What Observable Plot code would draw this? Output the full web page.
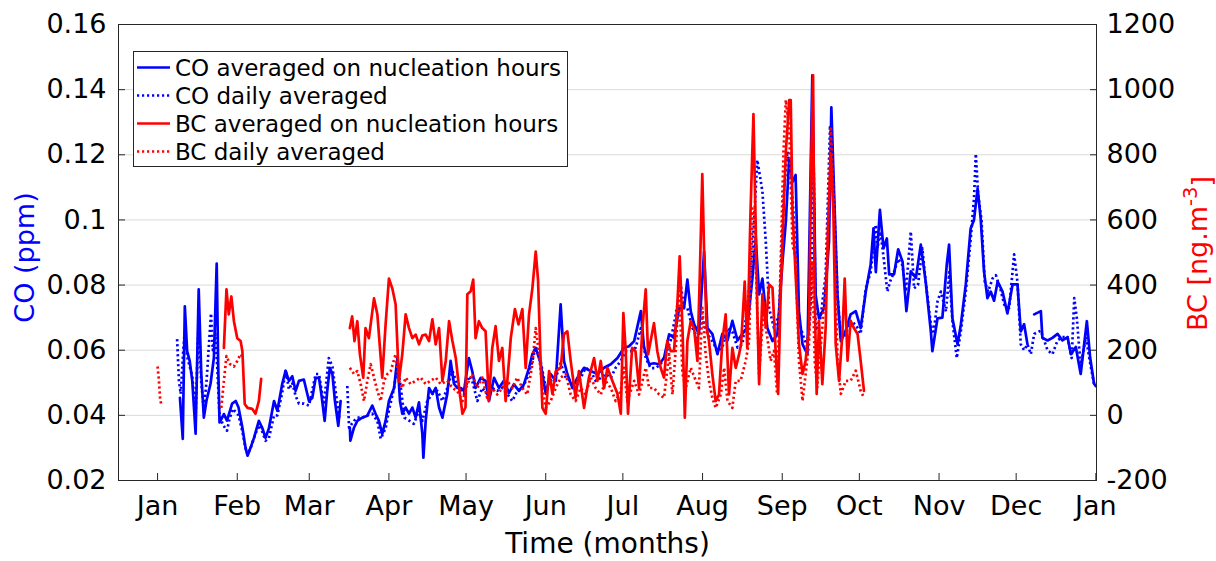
<!DOCTYPE html>
<html>
<head>
<meta charset="utf-8">
<script src="https://cdn.jsdelivr.net/npm/d3@7"></script>
<script src="https://cdn.jsdelivr.net/npm/@observablehq/plot@0.6"></script>
<style>
  html, body { margin: 0; padding: 0; background: #fff; }
  #wrap { position: relative; width: 1216px; height: 561px; font-family: "DejaVu Sans", sans-serif; }
  #legend { position: absolute; left: 0; top: 0; }
</style>
</head>
<body>
<div id="wrap"></div>
<script>
// ---- Data (day of year, value) ----
// CO averaged on nucleation hours (ppm)
const coNucleation = [
[8.7,0.0454],[9.8,0.0328],[10.6,0.0735],[11.5,0.0597],[12.5,0.0567],[13.5,0.0506],[14.8,0.0344],[16.0,0.0787],
[17.0,0.0527],[18.0,0.0393],[19.0,0.0444],[20.6,0.0497],[21.9,0.0576],[23.0,0.0866],[23.6,0.0546],[24.1,0.0378],
[25.8,0.0404],[27.0,0.0384],[29.0,0.0436],[30.4,0.0444],[31.5,0.0424],[33.0,0.0362],[34.2,0.0301],[35.0,0.0276],
[36.2,0.0301],[37.5,0.0331],[39.4,0.0383],[40.7,0.0362],[42.0,0.0331],[43.3,0.0360],[45.3,0.0444],[46.6,0.0414],
[48.5,0.0497],[49.8,0.0537],[51.1,0.0506],[52.4,0.0520],[53.7,0.0475],[55.0,0.0506],[56.9,0.0510],[58.9,0.0444],
[60.2,0.0454],[61.5,0.0515],[62.8,0.0515],[63.7,0.0466],[65.0,0.0383],[66.0,0.0475],[67.0,0.0546],[68.0,0.0527],
[69.0,0.0444],[70.3,0.0368],[71.2,0.0444],[73.0,null],
[74.8,0.0362],[75.0,0.0322],[76.4,0.0362],[77.7,0.0383],[79.6,0.0393],[81.6,0.0399],[83.5,0.0430],[84.8,0.0405],
[86.1,0.0383],[87.4,0.0343],[88.7,0.0383],[90.0,0.0444],[92.0,0.0484],[93.3,0.0576],[94.3,0.0444],[95.2,0.0405],
[96.5,0.0424],[97.8,0.0405],[99.1,0.0424],[100.4,0.0393],[101.7,0.0440],[103.0,0.0343],[103.4,0.0270],[104.3,0.0383],
[105.6,0.0484],[106.9,0.0466],[108.2,0.0484],[109.5,0.0424],[110.8,0.0393],[112.7,0.0466],[114.0,0.0567],[115.3,0.0497],
[116.6,0.0484],[118.0,0.0484],[119.2,0.0475],[121.1,0.0576],[122.4,0.0536],[123.7,0.0484],[125.7,0.0515],[127.6,0.0506],
[128.9,0.0444],[130.9,0.0515],[132.8,0.0484],[134.7,0.0506],[136.7,0.0469],[138.6,0.0495],[140.6,0.0475],[142.5,0.0495],
[144.5,0.0546],[145.8,0.0588],[147.1,0.0607],[149.0,0.0560],[151.0,0.0466],[152.9,0.0527],[154.9,0.0506],[156.8,0.0741],
[158.1,0.0567],[159.4,0.0527],[161.4,0.0484],[163.3,0.0515],[165.9,0.0546],[168.5,0.0536],[171.1,0.0527],[173.7,0.0546],
[176.3,0.0557],[178.9,0.0576],[181.4,0.0607],[183.4,0.0612],[185.4,0.0628],[188.0,0.0720],[189.2,0.0610],[191.2,0.0557],
[193.1,0.0560],[195.1,0.0557],[197.0,0.0576],[199.0,0.0649],[200.9,0.0638],[202.9,0.0729],[204.8,0.0729],[206.1,0.0817],
[207.4,0.0720],[208.7,0.0680],[210.6,0.0650],[212.6,0.0903],[213.9,0.0668],[215.8,0.0650],[217.8,0.0588],[219.7,0.0650],
[221.7,0.0630],[223.6,0.0690],[225.6,0.0630],[227.5,0.0650],[229.4,0.0670],[231.4,0.0821],[232.7,0.0943],[234.0,0.0771],
[235.3,0.0820],[237.2,0.0668],[239.2,0.0628],[241.1,0.0649],[243.1,0.0872],[244.4,0.0995],[245.7,0.1188],[247.0,0.1117],
[248.2,0.1138],[249.5,0.0720],[250.9,0.0618],[252.8,0.0588],[254.7,0.1444],[256.0,0.0770],[257.3,0.0698],[259.3,0.0730],
[261.2,0.0934],[262.1,0.1346],[263.2,0.1077],[264.5,0.0770],[265.8,0.0628],[267.7,0.0660],[269.6,0.0710],[271.6,0.0720],
[273.5,0.0668],[275.5,0.0780],[277.4,0.0863],[278.5,0.0974],[279.4,0.0840],[281.0,0.1031],[282.4,0.0913],[283.7,0.0943],
[284.6,0.0833],[286.5,0.0833],[288.1,0.0910],[289.8,0.0872],[291.3,0.0720],[293.0,0.0842],[295.0,0.0822],[296.9,0.0924],
[298.8,0.0811],[300.8,0.0658],[301.4,0.0597],[303.4,0.0698],[305.3,0.0700],[307.0,0.0863],[307.9,0.0924],[309.2,0.0698],
[311.2,0.0618],[312.5,0.0680],[314.4,0.0802],[316.3,0.0974],[317.6,0.1000],[319.0,0.1096],[320.2,0.1004],[321.5,0.0842],
[322.8,0.0760],[324.1,0.0780],[325.4,0.0752],[326.8,0.0811],[328.7,0.0780],[330.6,0.0713],[332.6,0.0802],[334.5,0.0802],
[335.8,0.0658],[337.1,0.0680],[338.4,0.0618],[339.6,null],
[341.0,0.0710],[343.6,0.0720],[344.2,0.0638],[346.2,0.0630],[348.1,0.0638],[350.1,0.0650],[352.0,0.0630],[354.0,0.0640],
[355.3,0.0588],[357.2,0.0610],[359.1,0.0527],[361.5,0.0689],[362.8,0.0576],[364.3,0.0497],[365.0,0.0490]
];
// CO daily averaged (ppm)
const coDaily = [
[7.6,0.0634],[8.3,0.0506],[9.0,0.0466],[10.0,0.0600],[10.6,0.0660],[11.5,0.0580],[12.5,0.0550],[13.5,0.0520],
[14.8,0.0400],[16.0,0.0700],[17.0,0.0500],[18.0,0.0420],[19.0,0.0500],[20.8,0.0713],[21.5,0.0600],[22.5,0.0650],
[23.2,0.0550],[24.1,0.0400],[25.5,0.0370],[27.0,0.0353],[28.0,0.0390],[29.3,0.0420],[30.4,0.0410],[31.5,0.0400],
[33.0,0.0350],[34.2,0.0300],[35.0,0.0280],[36.2,0.0300],[37.5,0.0330],[39.4,0.0370],[40.7,0.0350],[42.0,0.0322],
[43.3,0.0330],[45.3,0.0400],[46.6,0.0400],[48.5,0.0470],[49.8,0.0540],[51.1,0.0480],[52.4,0.0500],[53.7,0.0460],
[55.0,0.0436],[56.9,0.0436],[58.9,0.0430],[61.5,0.0527],[62.8,0.0527],[64.7,0.0433],[66.6,0.0576],[68.0,0.0550],
[69.4,0.0466],[70.7,0.0393],[72.0,null],
[73.8,0.0490],[74.5,0.0362],[76.4,0.0383],[77.7,0.0393],[79.6,0.0393],[81.6,0.0400],[83.5,0.0405],[85.5,0.0383],
[86.8,0.0328],[88.7,0.0360],[90.0,0.0415],[92.0,0.0484],[93.3,0.0560],[94.7,0.0480],[96.0,0.0393],[98.0,0.0383],
[99.7,0.0374],[101.7,0.0415],[103.0,0.0383],[104.9,0.0444],[106.9,0.0466],[108.9,0.0475],[110.8,0.0444],[112.7,0.0484],
[114.7,0.0536],[116.6,0.0495],[119.2,0.0466],[121.1,0.0520],[122.4,0.0506],[124.4,0.0444],[126.3,0.0484],[128.2,0.0466],
[130.2,0.0484],[132.1,0.0475],[134.1,0.0484],[136.0,0.0466],[138.0,0.0444],[139.9,0.0475],[141.9,0.0484],[143.8,0.0515],
[145.8,0.0567],[147.1,0.0612],[149.0,0.0567],[151.0,0.0484],[152.9,0.0506],[154.9,0.0515],[156.8,0.0560],[158.8,0.0515],
[160.7,0.0506],[162.6,0.0484],[164.6,0.0515],[166.5,0.0546],[168.5,0.0536],[170.4,0.0506],[172.4,0.0515],[174.3,0.0527],
[176.3,0.0515],[178.2,0.0546],[180.2,0.0567],[182.1,0.0597],[184.1,0.0597],[186.0,0.0608],[188.0,0.0668],[189.9,0.0576],
[191.8,0.0545],[193.8,0.0545],[195.7,0.0557],[197.7,0.0588],[199.6,0.0630],[201.6,0.0710],[203.5,0.0802],[204.8,0.0730],
[206.1,0.0729],[208.1,0.0668],[210.0,0.0638],[211.9,0.0698],[213.9,0.0650],[215.8,0.0628],[217.8,0.0597],[219.7,0.0608],
[221.7,0.0668],[223.6,0.0657],[225.6,0.0608],[227.5,0.0618],[229.4,0.0729],[231.4,0.0903],[233.3,0.1184],[235.3,0.1087],
[236.6,0.0933],[237.9,0.0729],[239.8,0.0668],[241.8,0.0710],[243.7,0.1087],[245.0,0.1210],[245.7,0.1178],[247.0,0.1066],
[248.2,0.0924],[249.5,0.0690],[250.9,0.0650],[252.8,0.0610],[254.3,0.0770],[255.1,0.1250],[256.0,0.0660],[257.9,0.0700],
[259.9,0.0833],[261.6,0.1290],[262.9,0.1100],[264.5,0.0770],[265.8,0.0630],[267.7,0.0650],[269.6,0.0690],[271.6,0.0678],
[273.5,0.0650],[275.5,0.0790],[277.4,0.0840],[279.4,0.0985],[280.0,0.0913],[281.2,0.0964],[282.5,0.0880],[283.9,0.0780],
[284.9,0.0810],[286.5,0.0840],[288.1,0.0880],[289.8,0.0860],[291.1,0.0780],[293.0,0.0964],[294.3,0.0790],[295.8,0.0800],
[297.5,0.0913],[298.8,0.0810],[300.8,0.0680],[301.8,0.0650],[303.4,0.0750],[304.7,0.0780],[306.7,0.0719],[308.0,0.0840],
[309.2,0.0690],[310.9,0.0576],[312.5,0.0660],[314.4,0.0780],[316.3,0.0940],[317.6,0.1066],[318.3,0.1203],[319.2,0.1080],
[320.5,0.1000],[321.8,0.0810],[323.1,0.0780],[324.8,0.0820],[326.1,0.0830],[327.8,0.0790],[329.4,0.0739],[331.3,0.0730],
[333.2,0.0894],[334.5,0.0810],[335.8,0.0618],[337.1,0.0600],[338.4,0.0618],[339.7,0.0588],[341.0,0.0650],[343.6,0.0660],
[346.2,0.0600],[348.1,0.0588],[350.1,0.0630],[352.0,0.0640],[354.0,0.0640],[355.6,0.0576],[356.6,0.0760],[357.6,0.0698],
[359.1,0.0550],[361.1,0.0640],[363.0,0.0550],[364.3,0.0497]
];
// BC averaged on nucleation hours (ng m-3)
const bcNucleation = [
[25.8,207],[26.8,387],[27.7,310],[28.7,365],[29.7,289],[31.0,237],[32.3,228],[33.0,197],[33.9,35],[35.0,23],
[36.8,20],[38.1,5],[39.4,44],[40.3,112],[50.0,null],
[74.8,268],[75.7,304],[76.6,228],[77.7,289],[78.7,188],[80.0,116],[80.9,268],[82.2,237],[84.2,359],[85.5,310],
[87.4,116],[88.7,279],[90.0,420],[91.3,390],[92.6,341],[93.9,106],[95.2,188],[96.5,310],[97.8,268],[99.1,237],
[100.4,248],[101.7,218],[103.0,245],[104.3,248],[105.6,228],[106.9,295],[108.2,218],[109.5,268],[110.8,106],[112.1,167],
[113.4,289],[114.7,228],[116.0,176],[117.3,84],[118.6,5],[119.8,25],[120.5,372],[121.8,381],[122.8,417],[123.7,237],
[125.0,289],[126.3,268],[127.6,258],[128.9,44],[130.2,207],[131.5,274],[132.8,167],[134.1,207],[135.4,44],[136.7,167],
[137.4,237],[139.0,326],[140.4,279],[141.9,326],[143.2,146],[144.5,310],[145.8,390],[147.1,503],[148.0,417],[149.0,167],
[149.7,23],[151.0,5],[152.3,136],[153.6,66],[154.9,136],[156.8,146],[158.1,249],[159.4,258],[160.7,167],[162.6,54],
[163.9,136],[165.9,23],[167.8,116],[169.8,176],[171.1,106],[172.4,167],[173.7,84],[175.0,146],[176.9,106],[178.9,66],
[180.2,5],[181.2,314],[182.1,200],[183.0,5],[184.6,207],[185.9,197],[187.3,84],[188.6,268],[189.9,387],[190.8,187],
[191.8,228],[193.1,283],[194.4,197],[195.7,146],[197.0,116],[198.3,228],[199.6,197],[200.9,197],[202.2,341],[203.1,488],
[204.2,268],[205.1,-7],[206.1,228],[207.4,289],[208.7,268],[210.0,167],[211.0,451],[211.9,741],[212.6,503],[213.6,268],
[214.5,228],[215.8,127],[217.1,44],[218.4,64],[219.7,228],[221.0,310],[222.3,64],[223.6,207],[224.9,146],[226.2,187],
[227.0,219],[228.4,411],[229.4,207],[230.7,635],[231.8,925],[232.7,574],[233.3,320],[234.0,96],[235.3,372],[236.6,270],
[237.9,402],[239.2,392],[240.5,188],[241.4,66],[242.4,372],[243.5,625],[244.4,809],[245.7,968],[246.3,968],[247.0,625],
[248.2,433],[249.5,219],[250.9,127],[252.1,168],[253.4,270],[254.3,788],[255.0,1044],[255.6,372],[256.4,66],[257.3,290],
[258.6,96],[259.9,270],[260.8,574],[261.9,799],[262.9,625],[263.8,219],[265.1,106],[266.4,250],[267.3,420],[268.4,168],
[269.6,290],[270.9,268],[272.3,250],[273.5,168],[274.8,75]
];
// BC daily averaged (ng m-3)
const bcDaily = [
[0.0,150],[0.5,110],[1.0,50],[1.4,35],[10.0,null],
[24.8,23],[25.8,106],[26.8,182],[28.1,158],[29.7,150],[31.0,167],[32.3,188],[33.0,180],[50.0,null],
[74.8,146],[76.4,127],[77.7,136],[79.0,96],[80.3,44],[81.6,106],[82.9,157],[84.2,116],[85.5,75],[86.8,44],
[88.1,106],[89.4,127],[90.7,136],[92.6,188],[93.9,106],[95.2,84],[96.5,116],[98.4,96],[100.4,106],[102.3,116],
[104.3,96],[106.2,106],[108.2,116],[110.1,96],[112.7,106],[114.7,84],[116.6,75],[118.6,44],[120.5,95],[122.4,127],
[124.4,84],[126.3,116],[128.2,54],[130.2,84],[132.1,64],[134.1,84],[136.0,106],[138.0,84],[139.9,116],[141.9,84],
[143.8,64],[145.8,157],[147.1,268],[148.4,188],[149.7,84],[151.0,23],[152.9,44],[154.9,84],[156.8,116],[158.8,127],
[160.7,64],[162.6,44],[164.6,84],[166.5,64],[168.5,116],[170.4,84],[172.4,64],[174.3,106],[176.3,84],[178.2,44],
[180.2,75],[181.4,146],[182.7,44],[185.4,106],[187.3,64],[189.9,146],[191.2,84],[193.1,84],[195.1,64],[197.0,54],
[199.0,188],[200.3,64],[201.6,207],[202.9,390],[204.2,127],[205.5,84],[207.4,146],[209.4,106],[210.6,84],[211.9,330],
[213.2,188],[214.5,106],[215.8,54],[217.1,23],[219.1,64],[220.4,146],[221.7,44],[223.6,23],[224.9,106],[226.8,106],
[228.8,167],[230.1,228],[231.4,635],[232.3,584],[234.0,127],[235.9,350],[236.6,270],[238.5,167],[239.8,198],[241.0,66],
[242.4,474],[243.5,809],[244.4,968],[245.7,880],[247.0,523],[248.2,484],[249.5,168],[250.9,44],[252.1,127],[253.4,219],
[254.7,474],[255.6,168],[256.6,86],[258.6,270],[260.4,474],[261.9,880],[263.2,625],[264.5,168],[265.8,66],[267.7,106],
[269.6,106],[271.6,137],[273.5,76],[274.8,54]
];

const coTicks = [0.02, 0.04, 0.06, 0.08, 0.10, 0.12, 0.14, 0.16];
const bcTicks = [-200, 0, 200, 400, 600, 800, 1000, 1200];
const monthLabels = ["Jan","Feb","Mar","Apr","May","Jun","Jul","Aug","Sep","Oct","Nov","Dec","Jan"];
const legendLabels = ["CO averaged on nucleation hours", "CO daily averaged", "BC averaged on nucleation hours", "BC daily averaged"];

// ---- helpers ----
const t0 = Date.UTC(2017, 0, 1);
const toDate = d => new Date(t0 + d * 864e5);
const bcToCo = b => (b == null ? null : (b + 400) / 10000);   // right axis -> left axis units
const monthTicks = d3.range(13).map(i => new Date(Date.UTC(2017, i, 1)));
const BLUE = "#0000ff", RED = "#ff0000";
const DOT = "2.2,2.8";
const LW = 2.7;

const plot = Plot.plot({
  width: 1216,
  height: 561,
  marginLeft: 118,
  marginRight: 120,
  marginTop: 24,
  marginBottom: 81,
  style: { fontFamily: "DejaVu Sans", fontSize: "27px", color: "#000", background: "#fff" },
  x: { type: "utc", domain: [toDate(-15.2), toDate(365.25)] },
  y: { domain: [0.02, 0.16] },
  marks: [
    Plot.gridY(coTicks.slice(1, -1), { stroke: "#000", strokeOpacity: 0.15, strokeWidth: 1 }),
    Plot.line(coDaily, { x: d => toDate(d[0]), y: d => d[1], stroke: BLUE, strokeWidth: LW, strokeDasharray: DOT, strokeLinecap: "butt" }),
    Plot.line(coNucleation, { x: d => toDate(d[0]), y: d => d[1], stroke: BLUE, strokeWidth: LW }),
    Plot.line(bcDaily, { x: d => toDate(d[0]), y: d => bcToCo(d[1]), stroke: RED, strokeWidth: LW, strokeDasharray: DOT, strokeLinecap: "butt" }),
    Plot.line(bcNucleation, { x: d => toDate(d[0]), y: d => bcToCo(d[1]), stroke: RED, strokeWidth: LW }),
    Plot.axisY(coTicks, { anchor: "left", tickSize: -7, tickPadding: 19, tickFormat: d => String(+d.toFixed(2)), label: null, stroke: "#262626" }),
    Plot.axisY(bcTicks.map(bcToCo), { anchor: "right", tickSize: -7, tickPadding: 17, tickFormat: d => String(Math.round(d * 10000 - 400)), label: null, stroke: "#262626" }),
    Plot.axisX(monthTicks, { anchor: "bottom", tickSize: -7, tickPadding: 22, tickFormat: (d, i) => monthLabels[i], label: null, stroke: "#262626" }),
    Plot.frame({ stroke: "#262626", strokeWidth: 1 }),
    Plot.text(["Time (months)"], { frameAnchor: "bottom", textAnchor: "middle", dy: 64, fontSize: 28, fill: "#000", lineAnchor: "middle" }),
    Plot.text(["CO (ppm)"], { frameAnchor: "left", textAnchor: "middle", dx: -93, dy: 5, rotate: -90, fontSize: 27, fill: BLUE, lineAnchor: "middle" }),
    Plot.text(["BC [ng.m-3]"], { frameAnchor: "right", textAnchor: "middle", dx: 102, dy: 1, rotate: -90, fontSize: 27, fill: RED, lineAnchor: "middle" })
  ]
});

// superscript in BC label
d3.select(plot).selectAll("text").filter(function () { return this.textContent === "BC [ng.m-3]"; })
  .each(function () {
    const t = d3.select(this);
    t.text(null);
    t.append("tspan").text("BC [ng.m");
    t.append("tspan").attr("dy", "-0.5em").attr("font-size", "0.72em").text("-3");
    t.append("tspan").attr("dy", "0.5em").text("]");
  });

const wrap = document.getElementById("wrap");
wrap.appendChild(plot);

// ---- legend (overlay inside the axes) ----
const lg = d3.select(wrap).append("svg").attr("id", "legend").attr("width", 1216).attr("height", 561)
  .style("pointer-events", "none");
lg.append("rect").attr("x", 133.5).attr("y", 51.5).attr("width", 434).attr("height", 115)
  .attr("fill", "#fff").attr("stroke", "#262626").attr("stroke-width", 1);
const styles = [
  { stroke: BLUE, dash: null }, { stroke: BLUE, dash: DOT },
  { stroke: RED, dash: null }, { stroke: RED, dash: DOT }
];
legendLabels.forEach((label, i) => {
  const cy = 67.5 + i * 28;
  lg.append("line").attr("x1", 137).attr("x2", 170).attr("y1", cy).attr("y2", cy)
    .attr("stroke", styles[i].stroke).attr("stroke-width", LW)
    .attr("stroke-dasharray", styles[i].dash);
  lg.append("text").attr("x", 175).attr("y", cy).attr("dy", "0.36em")
    .attr("font-family", "DejaVu Sans").attr("font-size", 23).attr("fill", "#000").text(label);
});
</script>
</body>
</html>
